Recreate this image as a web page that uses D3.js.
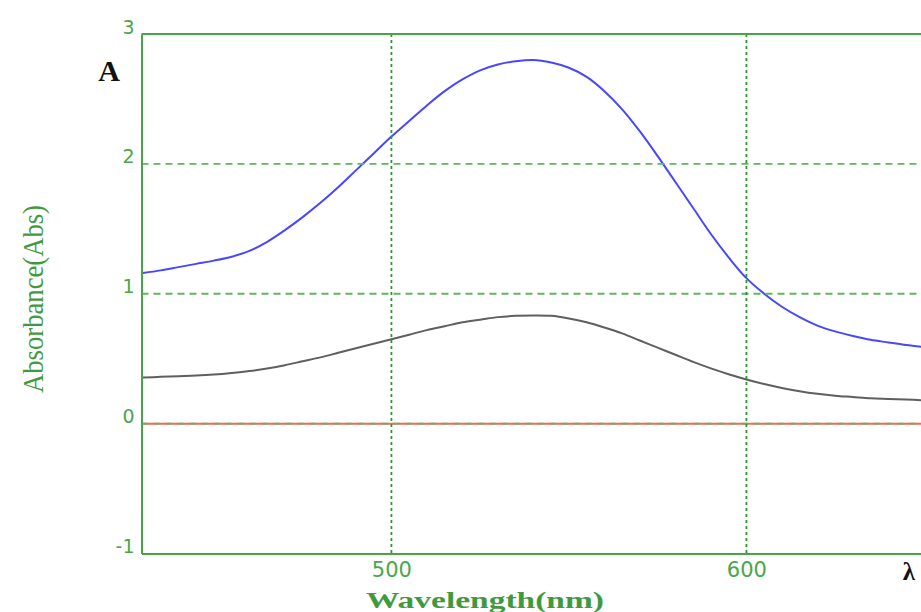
<!DOCTYPE html>
<html>
<head>
<meta charset="utf-8">
<script src="https://cdn.jsdelivr.net/npm/d3@7"></script>
<style>
  html, body { margin: 0; padding: 0; background: #fff; }
  svg { display: block; }
</style>
</head>
<body>
<svg id="chart" width="921" height="612"></svg>
<script>
// ---- data ----
const wavelengths = [430,435,440,445,450,455,460,465,470,475,480,485,490,495,500,505,510,515,520,525,530,535,540,545,550,555,560,565,570,575,580,585,590,595,600,605,610,615,620,625,630,635,640,645,650];
const blueValues  = [1.16,1.18,1.205,1.23,1.255,1.285,1.33,1.40,1.49,1.59,1.70,1.82,1.95,2.08,2.21,2.33,2.45,2.56,2.65,2.72,2.765,2.79,2.80,2.78,2.74,2.67,2.56,2.42,2.25,2.06,1.86,1.66,1.46,1.28,1.12,1.00,0.90,0.82,0.755,0.71,0.675,0.645,0.625,0.605,0.59];
const grayValues  = [0.355,0.36,0.365,0.37,0.378,0.39,0.405,0.425,0.45,0.48,0.51,0.545,0.58,0.615,0.65,0.685,0.72,0.75,0.78,0.80,0.82,0.83,0.833,0.83,0.81,0.78,0.74,0.695,0.64,0.585,0.53,0.475,0.425,0.38,0.34,0.305,0.275,0.25,0.23,0.215,0.205,0.195,0.19,0.185,0.18];
const redValues   = [0,0,0,0,0,0,0,0,0,0,0,0,0,0,0,0,0,0,0,0,0,0,0,0,0,0,0,0,0,0,0,0,0,0,0,0,0,0,0,0,0,0,0,0,0];
const yTicks = [-1, 0, 1, 2, 3];
const xTicks = [500, 600];
const xTitle = "Wavelength(nm)";
const yTitle = "Absorbance(Abs)";

// ---- layout ----
const svg = d3.select("#chart");
const pLeft = 141.5, pRight = 923.9, pTop = 34, pBottom = 553.5;
const x = d3.scaleLinear().domain([429.6, 650]).range([pLeft, pRight]);
const y = d3.scaleLinear().domain([-1, 3]).range([pBottom, pTop]);

const green = "#47a447";
const labelGreen = "#4aa64a";
const gridGreen = "#5cb85c";

svg.append("clipPath").attr("id", "plotclip")
  .append("rect").attr("x", pLeft).attr("y", pTop).attr("width", 921 - pLeft).attr("height", pBottom - pTop);

// curves
const seriesList = [
  { vals: redValues,  color: "#ff6262", w: 2 },
  { vals: grayValues, color: "#5f5f5f", w: 2 },
  { vals: blueValues, color: "#4747ff", w: 2 }
];
const line = d3.line().x(d => x(d[0])).y(d => y(d[1])).curve(d3.curveCatmullRom.alpha(0.5));
const curves = svg.append("g").attr("clip-path", "url(#plotclip)");
seriesList.forEach(s => {
  curves.append("path")
    .datum(wavelengths.map((w, i) => [w, s.vals[i]]))
    .attr("fill", "none")
    .attr("stroke", s.color)
    .attr("stroke-width", s.w)
    .attr("d", line);
});

// grid
const grid = svg.append("g");
grid.selectAll("line.h").data(yTicks.filter(t => t > -1 && t < 3)).enter().append("line")
  .attr("x1", pLeft).attr("x2", 921)
  .attr("y1", d => y(d)).attr("y2", d => y(d))
  .attr("stroke", gridGreen).attr("stroke-width", 1.8).attr("stroke-dasharray", "7,5");
grid.selectAll("line.v").data(xTicks).enter().append("line")
  .attr("x1", d => x(d)).attr("x2", d => x(d))
  .attr("y1", pTop).attr("y2", pBottom)
  .attr("stroke", "#2e962e").attr("stroke-width", 1.8).attr("stroke-dasharray", "3,3");

// axes (frame)
const yAxis = d3.axisLeft(y).tickValues(yTicks).tickSize(0).tickPadding(7).tickFormat(d => String(d));
const gy = svg.append("g").attr("transform", `translate(${pLeft},0)`).call(yAxis);
gy.select(".domain").attr("stroke", green).attr("stroke-width", 2);
gy.selectAll("text")
  .attr("fill", labelGreen).attr("font-family", "DejaVu Sans, Verdana, sans-serif")
  .attr("font-size", 19).attr("dy", "-0.05em");

const xAxis = d3.axisBottom(x).tickValues(xTicks).tickSize(0).tickPadding(9).tickFormat(d => String(d));
const gx = svg.append("g").attr("transform", `translate(0,${pBottom})`).call(xAxis);
gx.select(".domain").attr("stroke", green).attr("stroke-width", 2);
gx.selectAll("text")
  .attr("fill", labelGreen).attr("font-family", "DejaVu Sans, Verdana, sans-serif")
  .attr("font-size", 21);

// top frame line
svg.append("line").attr("x1", pLeft).attr("x2", 921).attr("y1", pTop).attr("y2", pTop)
  .attr("stroke", green).attr("stroke-width", 2);

// titles
svg.append("text").text(xTitle)
  .attr("x", 485).attr("y", 608).attr("text-anchor", "middle")
  .attr("font-family", "Liberation Serif, Times New Roman, serif").attr("font-weight", "bold")
  .attr("font-size", 24).attr("fill", "#3f9a3f")
  .attr("textLength", 238).attr("lengthAdjust", "spacingAndGlyphs");

svg.append("text").text(yTitle)
  .attr("transform", "translate(43,299) rotate(-90)").attr("text-anchor", "middle")
  .attr("font-family", "Liberation Serif, Times New Roman, serif")
  .attr("font-size", 30).attr("fill", "#3f9a3f")
  .attr("textLength", 188).attr("lengthAdjust", "spacingAndGlyphs");

svg.append("text").text("A")
  .attr("x", 109).attr("y", 81).attr("text-anchor", "middle")
  .attr("font-family", "Liberation Serif, Times New Roman, serif").attr("font-weight", "bold")
  .attr("font-size", 30).attr("fill", "#111");

svg.append("text").text("λ")
  .attr("x", 909).attr("y", 580).attr("text-anchor", "middle")
  .attr("font-family", "Liberation Serif, Times New Roman, serif").attr("font-weight", "bold")
  .attr("font-size", 25).attr("fill", "#111");
</script>
</body>
</html>
